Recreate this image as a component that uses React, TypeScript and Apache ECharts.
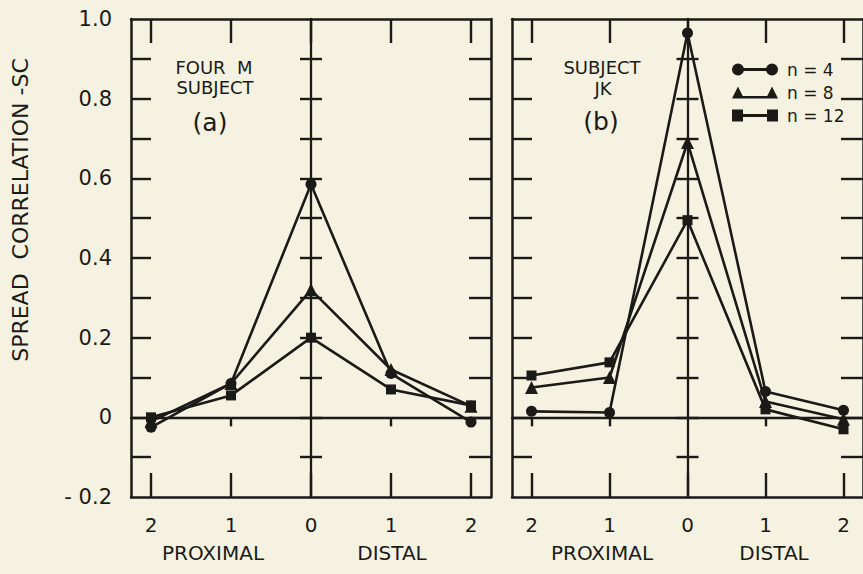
import React, { useEffect, useRef } from "react";
import * as echarts from "echarts";

// ---- data ----
const xPositions = [-2, -1, 0, 1, 2];
const xTickLabels = ["2", "1", "0", "1", "2"];
const seriesNames = ["n = 4", "n = 8", "n = 12"];
const seriesSymbols = ["circle", "triangle", "rect"];

// Panel (a) FOUR M SUBJECT
const panelA_n4 = [-0.025, 0.085, 0.585, 0.11, -0.012];
const panelA_n8 = [-0.01, 0.085, 0.32, 0.12, 0.028];
const panelA_n12 = [0.0, 0.055, 0.2, 0.07, 0.03];

// Panel (b) SUBJECT JK
const panelB_n4 = [0.015, 0.012, 0.965, 0.065, 0.018];
const panelB_n8 = [0.075, 0.1, 0.69, 0.04, -0.005];
const panelB_n12 = [0.105, 0.138, 0.495, 0.02, -0.03];

const yLabelValues = [-0.2, 0, 0.2, 0.4, 0.6, 0.8, 1.0];
const yTickLabels = ["- 0.2", "0", "0.2", "0.4", "0.6", "0.8", "1.0"];
const yMinorTicks = [-0.1, 0, 0.1, 0.2, 0.3, 0.4, 0.5, 0.6, 0.7, 0.8, 0.9];

const INK = "#1b1a17";
const BG = "#f6f2e2";
const FONT = "DejaVu Sans";

const legendIcons = [
  "path://M0,6 A6,6 0 1,1 12,6 A6,6 0 1,1 0,6 Z M34,6 A6,6 0 1,1 46,6 A6,6 0 1,1 34,6 Z M6,4.6 L40,4.6 L40,7.4 L6,7.4 Z",
  "path://M0,12 L6,0 L12,12 Z M34,12 L40,0 L46,12 Z M6,9.6 L40,9.6 L40,12 L6,12 Z",
  "path://M0,0.5 L11,0.5 L11,11.5 L0,11.5 Z M35,0.5 L46,0.5 L46,11.5 L35,11.5 Z M6,4.6 L40,4.6 L40,7.4 L6,7.4 Z",
];

function xLabelFmt(v: number) {
  const i = xPositions.findIndex((p) => Math.abs(p - v) < 1e-6);
  return i >= 0 ? xTickLabels[i] : "";
}
function yLabelFmt(v: number) {
  const i = yLabelValues.findIndex((p) => Math.abs(p - v) < 1e-6);
  return i >= 0 ? yTickLabels[i] : "";
}

export default function App() {
  const ref = useRef<HTMLDivElement>(null);
  useEffect(() => {
    if (!ref.current) return;
    const chart = echarts.init(ref.current, undefined, { renderer: "svg" });

    const grids = [
      { left: 131, top: 19, width: 360, height: 478 },
      { left: 512, top: 19, width: 360, height: 478 },
    ];
    const xMin = -2.25, xMax = 2.25, yMin = -0.2, yMax = 1.0;
    const line = { show: true, onZero: false, lineStyle: { color: INK, width: 2.5 } };
    const tickStyle = { color: INK, width: 2.4 };

    const xAxis: any[] = [];
    const yAxis: any[] = [];
    grids.forEach((_, g) => {
      const base = xAxis.length;
      // bottom frame
      xAxis.push({
        type: "value", gridIndex: g, min: xMin, max: xMax, position: "bottom",
        axisLine: line,
        axisTick: { show: true, inside: true, length: 24, lineStyle: tickStyle, customValues: xPositions },
        axisLabel: { show: true, customValues: xPositions, formatter: xLabelFmt, color: INK, fontSize: 20, fontFamily: FONT, margin: 18 },
        splitLine: { show: false },
      });
      // top frame
      xAxis.push({
        type: "value", gridIndex: g, min: xMin, max: xMax, position: "top",
        axisLine: line,
        axisTick: { show: true, inside: true, length: 24, lineStyle: tickStyle, customValues: xPositions },
        axisLabel: { show: false },
        splitLine: { show: false },
      });
      // zero line
      xAxis.push({
        type: "value", gridIndex: g, min: xMin, max: xMax, position: "bottom",
        axisLine: { show: true, onZero: true, onZeroAxisIndex: yAxis.length, lineStyle: { color: INK, width: 2.3 } },
        axisTick: { show: true, inside: false, length: 9, lineStyle: tickStyle, customValues: xPositions.filter((p) => p !== 0) },
        axisLabel: { show: false },
        splitLine: { show: false },
      });
      // left frame
      yAxis.push({
        type: "value", gridIndex: g, min: yMin, max: yMax, position: "left",
        axisLine: line,
        axisTick: { show: true, inside: true, length: 20, lineStyle: tickStyle, customValues: yMinorTicks },
        axisLabel: g === 0
          ? { show: true, customValues: yLabelValues, formatter: yLabelFmt, color: INK, fontSize: 21, fontFamily: FONT, margin: 19 }
          : { show: false },
        splitLine: { show: false },
      });
      // right frame
      yAxis.push({
        type: "value", gridIndex: g, min: yMin, max: yMax, position: "right",
        axisLine: line,
        axisTick: { show: true, inside: true, length: 22, lineStyle: tickStyle, customValues: yMinorTicks },
        axisLabel: { show: false },
        splitLine: { show: false },
      });
      // centre line (x = 0), ticks to the right
      yAxis.push({
        type: "value", gridIndex: g, min: yMin, max: yMax, position: "left",
        axisLine: { show: true, onZero: true, onZeroAxisIndex: base, lineStyle: { color: INK, width: 2.3 } },
        axisTick: { show: true, inside: true, length: 11, lineStyle: tickStyle, customValues: yMinorTicks },
        axisLabel: { show: false },
        splitLine: { show: false },
      });
      // centre line, ticks to the left
      yAxis.push({
        type: "value", gridIndex: g, min: yMin, max: yMax, position: "right",
        axisLine: { show: false, onZero: true, onZeroAxisIndex: base },
        axisTick: { show: true, inside: true, length: 11, lineStyle: tickStyle, customValues: yMinorTicks },
        axisLabel: { show: false },
        splitLine: { show: false },
      });
    });

    const panels = [
      [panelA_n4, panelA_n8, panelA_n12],
      [panelB_n4, panelB_n8, panelB_n12],
    ];
    const series: any[] = [];
    panels.forEach((vals, g) => {
      vals.forEach((arr, k) => {
        series.push({
          type: "line",
          name: seriesNames[k],
          xAxisIndex: g * 3,
          yAxisIndex: g * 4,
          data: xPositions.map((x, i) => [x, arr[i]]),
          symbol: seriesSymbols[k],
          symbolSize: k === 1 ? 13 : k === 2 ? 10 : 11,
          showSymbol: true,
          lineStyle: { color: INK, width: 2.6 },
          itemStyle: { color: INK, borderWidth: 0 },
          z: 3,
        });
      });
    });

    const txt = (text: string, x: number, y: number, size: number, extra: any = {}) => ({
      type: "text",
      x, y,
      ...extra,
      style: { text, fill: INK, fontSize: size, fontFamily: FONT, align: "center", verticalAlign: "middle" },
    });

    chart.setOption({
      animation: false,
      backgroundColor: BG,
      grid: grids,
      xAxis,
      yAxis,
      series,
      legend: {
        show: true,
        orient: "vertical",
        left: 727,
        top: 56,
        itemWidth: 46,
        itemHeight: 12,
        itemGap: 6,
        symbolKeepAspect: false,
        textStyle: { color: INK, fontSize: 17, fontFamily: FONT, padding: [0, 0, 0, 4] },
        data: seriesNames.map((n, i) => ({ name: n, icon: legendIcons[i], itemStyle: { color: INK, borderWidth: 0 } })),
      },
      graphic: [
        txt("SPREAD  CORRELATION -SC", 20, 210, 22, { rotation: Math.PI / 2 }),
        txt("FOUR  M", 214, 67, 18),
        txt("SUBJECT", 215, 87, 18),
        txt("(a)", 210, 122, 25),
        txt("SUBJECT", 602, 67, 18),
        txt("JK", 603, 88, 18),
        txt("(b)", 601, 121, 25),
        txt("PROXIMAL", 213, 553, 20),
        txt("DISTAL", 392, 553, 20),
        txt("PROXIMAL", 602, 553, 20),
        txt("DISTAL", 774, 553, 20),
      ],
    });
    return () => chart.dispose();
  }, []);
  return (
    <div
      ref={ref}
      style={{ position: "fixed", left: 0, top: 0, width: 863, height: 574 }}
    />
  );
}
